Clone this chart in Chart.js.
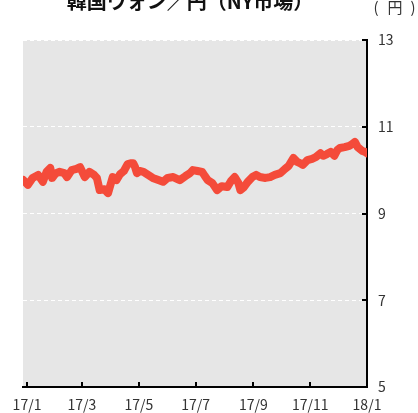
<!DOCTYPE html>
<html lang="ja">
<head>
    <meta charset="UTF-8">
    <title>韓国ウォン/円</title>
    <script src="https://cdn.jsdelivr.net/npm/chart.js"></script>
    <style>
        html, body { margin: 0; padding: 0; background: #fff; }
        .wrap { width: 418px; height: 413px; }
    </style>
</head>
<body>
    <div class="wrap">
        <canvas id="wonChart" width="418" height="413"></canvas>
    </div>

    <script>
        // 日数 (2017/1/1 = 0)
        var days = [-4, 1, 6, 12, 17, 21, 25, 27, 31, 35, 40, 43, 48, 53, 57, 62, 67, 72, 75, 78,
            83, 87, 92, 96, 100, 104, 108, 112, 114, 116, 118, 121, 125, 130, 135, 141, 146, 151, 157, 161,
            164, 170, 175, 178, 183, 188, 191, 194, 199, 204, 209, 215, 219, 223, 227, 229, 233, 237, 242, 246,
            250, 256, 261, 266, 272, 277, 281, 286, 290, 293, 296, 301, 306, 310, 315, 318, 322, 326, 330, 333,
            336, 341, 346, 349, 352, 355, 360, 363, 365];
        // 100ウォンあたりの円
        var rates = [9.77, 9.66, 9.82, 9.89, 9.73, 9.96, 10.05, 9.82, 9.93, 9.96, 9.93, 9.84, 10.00, 10.03, 10.07, 9.84, 9.96, 9.89, 9.82, 9.54,
            9.56, 9.47, 9.84, 9.77, 9.91, 9.98, 10.14, 10.16, 10.16, 10.07, 9.93, 9.98, 9.96, 9.89, 9.82, 9.77, 9.73, 9.82, 9.84, 9.80,
            9.77, 9.86, 9.93, 10.00, 9.98, 9.96, 9.86, 9.77, 9.70, 9.54, 9.63, 9.61, 9.75, 9.84, 9.70, 9.54, 9.61, 9.73, 9.84, 9.89,
            9.84, 9.82, 9.84, 9.89, 9.93, 10.03, 10.10, 10.28, 10.19, 10.16, 10.12, 10.23, 10.26, 10.30, 10.39, 10.33, 10.37, 10.42, 10.33, 10.46,
            10.51, 10.53, 10.56, 10.60, 10.65, 10.53, 10.44, 10.42, 10.39];

        var tickDays = [0, 59, 120, 181, 243, 304, 365];
        var tickLabels = ['17/1', '17/3', '17/5', '17/7', '17/9', '17/11', '18/1'];
        var yTicks = [5, 7, 9, 11, 13];

        var points = days.map(function (d, i) { return { x: d, y: rates[i] }; });

        // 背景・目盛り・タイトル
        var decor = {
            id: 'decor',
            beforeDraw: function (chart) {
                var ctx = chart.ctx, a = chart.chartArea;
                ctx.save();
                ctx.fillStyle = '#e6e6e6';
                ctx.fillRect(a.left, a.top, a.right - a.left, a.bottom - a.top);
                ctx.restore();
            },
            afterDraw: function (chart) {
                var ctx = chart.ctx, a = chart.chartArea;
                var xs = chart.scales.x, ys = chart.scales.y;
                ctx.save();
                ctx.strokeStyle = '#000';
                ctx.lineWidth = 2;
                ctx.beginPath();
                yTicks.forEach(function (v) {
                    var py = Math.round(ys.getPixelForValue(v));
                    ctx.moveTo(a.right - 5, py);
                    ctx.lineTo(a.right, py);
                });
                tickDays.forEach(function (d) {
                    var px = Math.round(xs.getPixelForValue(d));
                    ctx.moveTo(px, a.bottom - 5);
                    ctx.lineTo(px, a.bottom);
                });
                ctx.stroke();

                ctx.fillStyle = '#111';
                ctx.textAlign = 'center';
                ctx.textBaseline = 'middle';
                ctx.font = 'bold 20px "Noto Sans CJK JP"';
                ctx.fillText('韓国ウォン／円（NY市場）', 190, 1);
                // 単位
                ctx.fillStyle = '#333';
                ctx.font = '15px "Noto Sans CJK JP"';
                ctx.fillText('(', 376, 7);
                ctx.fillText('円', 395, 7);
                ctx.fillText(')', 413, 7);
                ctx.restore();
            }
        };

        var ctx = document.getElementById('wonChart').getContext('2d');
        var wonChart = new Chart(ctx, {
            type: 'line',
            data: {
                datasets: [{
                    data: points,
                    borderColor: 'rgb(244, 75, 58)',
                    borderWidth: 8,
                    borderJoinStyle: 'round',
                    borderCapStyle: 'round',
                    pointRadius: 0,
                    tension: 0,
                    fill: false
                }]
            },
            options: {
                responsive: false,
                animation: false,
                layout: { padding: { left: 23, top: 40, right: 0, bottom: 0 } },
                plugins: {
                    legend: { display: false },
                    tooltip: { enabled: false }
                },
                scales: {
                    x: {
                        type: 'linear',
                        min: -4.3,
                        max: 365,
                        afterBuildTicks: function (scale) {
                            scale.ticks = tickDays.map(function (d) { return { value: d }; });
                        },
                        afterFit: function (scale) { scale.height = 26; },
                        grid: { display: false, drawTicks: false },
                        border: { display: true, color: '#000', width: 2 },
                        ticks: {
                            padding: 9,
                            maxRotation: 0,
                            autoSkip: false,
                            color: '#333',
                            font: { family: '"Noto Sans CJK JP"', size: 14 },
                            callback: function (v, i) { return tickLabels[i]; }
                        }
                    },
                    y: {
                        position: 'right',
                        min: 5,
                        max: 13,
                        afterBuildTicks: function (scale) {
                            scale.ticks = yTicks.map(function (v) { return { value: v }; });
                        },
                        afterFit: function (scale) { scale.width = 51; },
                        grid: { color: '#ffffff', lineWidth: 1, drawTicks: false },
                        border: { display: true, color: '#000', width: 2, dash: [4, 3] },
                        ticks: {
                            padding: 11,
                            color: '#333',
                            font: { family: '"Noto Sans CJK JP"', size: 14 }
                        }
                    }
                }
            },
            plugins: [decor]
        });
    </script>
</body>
</html>
